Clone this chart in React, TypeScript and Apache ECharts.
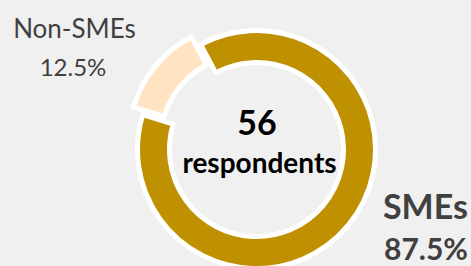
import React, { useEffect, useRef } from "react";
import * as echarts from "echarts";

const categories = ["SMEs", "Non-SMEs"];
const counts = [49, 7];
const colors = ["#BF9000", "#FFE3C2"];
const centerTitle = "respondents";

export default function App() {
  const ref = useRef<HTMLDivElement>(null);
  useEffect(() => {
    if (!ref.current) return;
    const chart = echarts.init(ref.current, undefined, { renderer: "svg" });
    const total = counts.reduce((a, b) => a + b, 0);
    const pct = counts.map((c) => ((c / total) * 100).toFixed(1) + "%");
    const font = "Lato, 'Open Sans', sans-serif";
    chart.setOption({
      animation: false,
      backgroundColor: "#F0F0F0",
      series: [
        {
          type: "pie",
          center: [256.5, 149.5],
          radius: [87, 119],
          startAngle: 118,
          clockwise: true,
          selectedMode: "multiple",
          selectedOffset: 12,
          label: { show: false },
          labelLine: { show: false },
          emphasis: { disabled: true },
          itemStyle: { borderColor: "#FFFFFF", borderWidth: 5 },
          data: categories.map((name, i) => ({
            name,
            value: counts[i],
            selected: i === 1,
            itemStyle: { color: colors[i] },
          })),
        },
      ],
      graphic: [
        {
          type: "text",
          style: { text: String(total), x: 257, y: 121, font: `bold 34px ${font}`, fill: "#000", textAlign: "center", textVerticalAlign: "middle" },
        },
        {
          type: "text",
          style: { text: centerTitle, x: 259.5, y: 162, font: `bold 28px ${font}`, fill: "#000", textAlign: "center", textVerticalAlign: "middle" },
        },
        {
          type: "text",
          style: { text: categories[1], x: 74.5, y: 28, font: `26px ${font}`, fill: "#404040", textAlign: "center", textVerticalAlign: "middle" },
        },
        {
          type: "text",
          style: { text: pct[1], x: 73, y: 66.5, font: `24px ${font}`, fill: "#404040", textAlign: "center", textVerticalAlign: "middle" },
        },
        {
          type: "text",
          style: { text: categories[0], x: 425.5, y: 205, font: `bold 34px ${font}`, fill: "#404040", textAlign: "center", textVerticalAlign: "middle" },
        },
        {
          type: "text",
          style: { text: pct[0], x: 426, y: 248, font: `bold 30px ${font}`, fill: "#404040", textAlign: "center", textVerticalAlign: "middle" },
        },
      ],
    });
    return () => chart.dispose();
  }, []);
  return <div ref={ref} style={{ position: "fixed", left: 0, top: 0, width: 471, height: 266 }} />;
}
